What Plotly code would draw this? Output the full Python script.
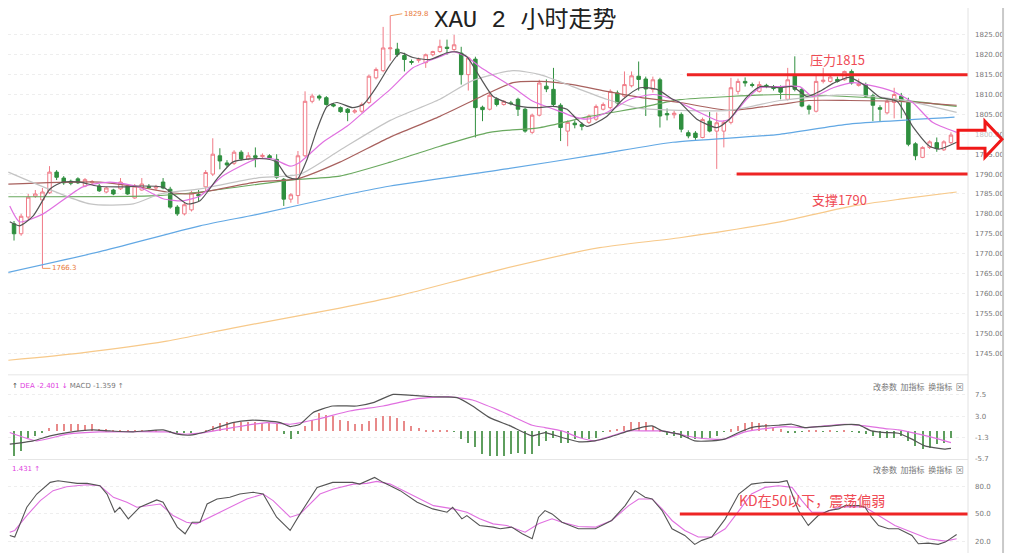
import plotly.graph_objects as go

# ---------------- candle data (2h bars) ----------------
open_ = [1777.5,1775.0,1779.2,1784.4,1783.5,1785.3,1790.5,1789.0,1788.2,1788.8,
         1787.0,1787.8,1787.0,1785.5,1786.0,1786.3,1787.0,1784.0,1786.0,1786.9,
         1786.5,1788.0,1786.2,1781.7,1780.0,1781.0,1784.9,1786.8,1790.0,1794.6,
         1792.8,1792.7,1795.5,1793.8,1794.6,1794.4,1794.6,1793.7,1788.7,1783.7,
         1784.6,1794.6,1808.3,1809.6,1809.2,1807.5,1806.7,1806.3,1805.6,1805.8,
         1808.0,1814.2,1816.0,1821.5,1821.4,1819.8,1818.3,1818.6,1818.0,1820.0,
         1820.8,1821.9,1821.3,1820.4,1815.0,1818.9,1806.8,1806.3,1808.9,1807.5,
         1807.9,1808.8,1806.3,1800.5,1804.8,1812.1,1811.3,1807.3,1800.8,1802.8,
         1802.5,1803.0,1803.8,1806.3,1806.7,1810.4,1809.6,1812.2,1814.6,1813.9,
         1811.3,1813.7,1805.2,1804.9,1805.0,1800.4,1800.3,1799.2,1803.3,1800.8,
         1800.8,1803.0,1810.8,1813.3,1812.5,1810.8,1812.3,1812.0,1811.9,1808.8,
         1815.0,1811.3,1807.1,1805.8,1813.3,1813.3,1813.8,1813.7,1815.8,1812.3,
         1812.5,1809.7,1806.7,1805.4,1808.0,1809.6,1808.0,1797.6,1794.2,1796.7,
         1797.9,1796.1,1797.9]
high = [1778.2,1780.0,1785.0,1786.0,1786.5,1792.0,1791.0,1789.5,1788.6,1789.2,
        1789.0,1788.5,1787.5,1786.8,1786.3,1789.0,1787.5,1787.5,1789.0,1787.5,
        1787.3,1789.0,1786.8,1782.2,1782.8,1785.8,1786.0,1791.0,1799.0,1796.5,
        1793.5,1796.0,1796.0,1795.5,1796.7,1795.2,1795.0,1795.0,1789.0,1785.2,
        1795.8,1810.8,1810.2,1810.0,1809.6,1807.9,1807.0,1806.6,1806.4,1808.0,
        1815.0,1816.8,1827.0,1829.8,1823.0,1820.5,1818.8,1819.3,1820.3,1821.0,
        1823.8,1823.8,1825.0,1822.0,1819.5,1819.5,1807.2,1810.5,1809.3,1808.6,
        1808.4,1809.2,1806.7,1805.2,1813.7,1813.8,1816.7,1807.8,1803.5,1803.5,
        1803.0,1805.0,1807.5,1808.0,1811.3,1811.0,1815.8,1815.8,1818.3,1814.5,
        1814.5,1814.2,1806.5,1806.0,1805.5,1801.0,1800.8,1804.2,1805.6,1805.5,
        1803.5,1814.2,1814.0,1814.3,1813.0,1813.3,1812.7,1812.4,1812.3,1816.7,
        1819.6,1811.7,1807.5,1815.0,1816.7,1815.0,1814.5,1816.0,1816.3,1814.0,
        1813.0,1810.2,1807.3,1808.8,1811.7,1810.4,1809.2,1798.0,1797.0,1798.5,
        1799.2,1798.5,1800.5]
low = [1773.3,1774.5,1778.5,1784.0,1766.3,1785.0,1788.5,1787.3,1787.2,1787.5,
       1786.7,1787.3,1785.5,1785.2,1784.7,1786.0,1784.8,1783.8,1785.8,1786.3,
       1786.0,1786.2,1781.3,1779.5,1779.6,1780.6,1783.0,1785.5,1789.5,1791.2,
       1791.8,1792.3,1793.4,1793.5,1791.7,1793.8,1793.6,1788.8,1782.0,1782.8,
       1782.5,1794.3,1807.8,1808.5,1807.2,1806.8,1805.4,1803.3,1805.2,1805.4,
       1807.6,1813.8,1815.6,1818.5,1819.5,1815.8,1817.5,1818.0,1816.7,1819.6,
       1820.5,1820.0,1821.0,1812.5,1811.0,1799.2,1803.3,1806.0,1807.0,1807.2,
       1807.3,1804.6,1800.4,1800.1,1804.5,1810.6,1807.1,1798.3,1797.0,1801.5,
       1801.0,1802.6,1803.4,1806.0,1806.3,1807.5,1809.2,1811.8,1811.0,1804.6,
       1810.5,1801.7,1803.5,1804.0,1800.5,1799.0,1798.6,1799.0,1800.5,1791.3,
       1796.7,1802.5,1810.0,1812.0,1811.8,1810.5,1811.6,1811.0,1808.8,1808.5,
       1810.8,1806.8,1805.0,1805.5,1812.8,1813.0,1813.0,1813.5,1812.5,1812.0,
       1809.2,1803.3,1803.3,1805.0,1804.0,1804.0,1797.0,1793.5,1794.0,1796.3,
       1795.6,1795.8,1797.6]
close = [1775.0,1779.4,1784.2,1785.0,1785.5,1790.5,1789.2,1787.8,1787.7,1787.8,
         1788.6,1788.1,1785.8,1786.5,1785.0,1788.0,1785.0,1787.0,1787.5,1786.6,
         1786.8,1786.5,1781.7,1780.0,1782.3,1785.3,1784.5,1790.4,1795.0,1793.3,
         1792.3,1795.5,1793.8,1794.6,1794.2,1794.7,1794.0,1789.2,1783.7,1784.8,
         1794.6,1808.3,1809.6,1809.1,1807.5,1807.1,1805.7,1805.5,1805.9,1807.5,
         1814.6,1816.3,1821.7,1821.7,1820.0,1818.8,1818.1,1818.8,1820.0,1820.8,
         1822.1,1821.6,1822.5,1815.0,1819.2,1806.7,1806.2,1809.8,1807.5,1808.3,
         1807.7,1806.3,1800.8,1804.8,1812.9,1811.4,1807.5,1801.7,1803.0,1802.4,
         1802.0,1804.6,1807.0,1807.5,1810.8,1807.9,1812.5,1814.7,1813.8,1811.4,
         1813.7,1804.6,1804.9,1805.3,1801.3,1799.6,1799.2,1803.7,1800.8,1802.9,
         1803.0,1811.7,1813.3,1812.9,1812.3,1812.5,1812.0,1811.5,1810.6,1813.7,
         1811.3,1807.1,1806.3,1813.3,1813.6,1814.4,1813.3,1815.8,1812.9,1812.7,
         1809.6,1807.3,1806.3,1808.3,1810.0,1808.3,1797.5,1794.6,1796.7,1798.1,
         1796.4,1798.1,1799.8]
bar_index = list(range(len(close)))

# ---------------- moving averages (read at sample bars) ----------------
ma5_x = [-0.6,0.8,2.7,5.1,6.9,9.3,11.7,15.9,17.7,21.0,22.4,24.4,26.2,28.6,30.8,33.2,35.6,37.0,38.5,39.9,
         41.3,42.7,44.1,45.5,47.7,49.2,51.1,53.0,54.4,56.2,58.6,61.0,62.4,63.8,65.6,67.5,69.4,71.3,73.7,75.9,
         77.9,79.3,80.7,83.5,85.8,88.2,90.6,92.8,93.8,96.2,99.0,100.8,103.2,105.1,107.9,109.7,111.7,113.5,115.4,117.7,
         120.1,122.0,124.4,126.6,129.0,130.4,132.8]
ma5_y = [1778,1777,1779.5,1786.3,1788,1788,1787,1786.8,1787,1786.7,1785,1782.5,1783.3,1788.8,1793,1793.8,1793.8,1793,1789.3,1788.8,
         1793.8,1801.3,1807,1808,1806.7,1807.5,1812,1817.5,1820.5,1819.3,1818.8,1820.5,1820.7,1819.5,1814.5,1809.5,1808,1807,1806.7,1807,
         1806.3,1803.8,1802,1804.5,1808.8,1811.7,1811.3,1808.8,1808,1803.8,1801.7,1803.8,1809.3,1812,1811.7,1812,1809.5,1810.8,1812.8,1814.3,
         1812,1809.3,1808.3,1802,1797,1796.3,1798]
ma10_x = [-0.6,0.8,4.1,9.7,13.5,17.7,21.0,23.8,26.2,29.4,34.2,36.5,38.9,40.3,43.5,46.9,49.7,53.0,56.2,60.0,
          61.8,63.8,65.6,70.3,73.1,77.3,78.7,80.7,83.5,86.8,90.0,92.8,96.6,99.4,100.8,103.2,105.1,107.9,110.7,112.5,
          115.4,118.2,120.1,123.8,126.6,129.4,132.8]
ma10_y = [1782,1778,1780,1786.8,1788,1786.7,1783.8,1783.3,1784.5,1789.5,1793.8,1793.8,1792,1793,1798,1802,1806.3,1811.3,1816.7,1819.5,
          1820.8,1819.5,1817,1811.8,1808.3,1805.5,1804.5,1803.8,1805.5,1808.8,1810,1808.8,1805.5,1803.3,1803.8,1808.8,1811.7,1812,1812,1809.5,
          1811.7,1813,1812.5,1810.8,1808,1803,1800.5]
ma20_x = [-0.8,10.7,16.8,20.6,26.2,34.2,40.3,45.9,53.0,60.0,64.6,70.3,74.1,78.7,83.5,88.2,93.8,100.8,107.9,117.7,124.8,132.8]
ma20_y = [1790.5,1782.5,1782.5,1785,1786.3,1789,1790,1796,1803.5,1808.8,1813.5,1816,1815,1812,1808.8,1806.5,1806,1806,1808.5,1810,1808.7,1805.5]
ma30_x = [-0.8,12.1,17.7,21.5,24.8,34.2,39.9,45.9,53.0,60.0,67.0,70.3,74.1,78.7,83.5,88.2,93.8,100.8,107.9,112.0,117.7,124.8,132.8]
ma30_y = [1787.5,1788,1786.7,1785.5,1785,1788,1788.8,1793,1799.3,1804.5,1810.5,1813,1813.3,1812.5,1810.8,1809.3,1808,1806,1807.5,1808.5,1808.5,1808.3,1807.3]
ma60_x = [-0.8,19.2,26.2,38.9,45.9,53.0,60.0,67.0,74.1,81.1,88.2,93.8,100.8,107.9,117.3,124.4,132.8]
ma60_y = [1784.3,1784.5,1785.5,1788.5,1789.5,1793,1797,1800.5,1801.7,1804.5,1806.7,1808.7,1809.5,1810,1809.5,1808.7,1807]
ma120_x = [-0.8,12.1,26.2,34.6,45.9,53.0,69.4,82.5,92.8,107.9,117.3,132.5]
ma120_y = [1765.3,1770.5,1777,1780,1784.5,1787,1791.3,1795,1798,1800,1802.5,1804.3]
ma240_x = [-0.8,9.3,21.5,30.8,45.9,54.4,68.5,82.5,93.8,107.9,118.2,124.8,132.8]
ma240_y = [1743.2,1745,1748,1751.3,1756.3,1759.5,1766,1771.5,1774,1778,1782,1783.7,1785.5]

price_ticks = [1825,1820,1815,1810,1805,1800,1795,1790,1785,1780,1775,1770,1765,1760,1755,1750,1745]
high_mark = (53, 1829.8)
low_mark = (4, 1766.3)
resistance = 1815
support = 1790

# ---------------- MACD ----------------
macd_hist = [-5.1,-4.1,-1.35,-1.0,-0.3,0.7,1.4,1.4,1.4,1.4,
             1.2,1.4,0.5,0.4,0.2,0.2,0.1,0.1,0.05,0.1,
             0.05,0.0,-0.3,-0.6,-0.5,-0.3,0.0,0.3,1.0,1.6,
             1.8,1.85,1.85,1.8,1.8,1.75,1.6,1.4,-0.7,-1.7,
             -0.6,1.0,2.4,3.8,3.4,3.1,2.4,2.1,1.4,1.4,
             2.1,2.8,3.1,3.1,2.8,2.1,1.1,0.7,0.24,0.03,
             0.05,0.05,-0.1,-1.7,-2.4,-3.4,-4.8,-5.1,-5.1,-5.1,
             -4.8,-4.5,-4.8,-4.8,-3.1,-2.0,-1.35,-2.4,-2.4,-1.7,
             -1.35,-1.7,-1.35,-0.1,0.24,0.5,1.07,1.9,1.9,1.9,
             1.07,0.1,-0.86,-1.1,-1.34,-1.34,-1.68,-1.68,-1.34,-1.0,
             -0.1,0.4,1.07,1.75,1.9,1.75,1.4,0.7,0.4,-0.3,
             -0.2,-0.1,0.1,0.15,-0.1,0.1,-0.1,0.1,-0.1,-0.2,
             -0.6,-1.0,-1.34,-1.34,-1.34,-1.0,-2.0,-3.06,-3.75,-3.6,
             -2.7,-2.37,-1.36]
dif_x = [-0.6,2.7,5.1,7.5,11.1,13.5,16.8,21.0,23.0,24.8,26.6,28.6,30.8,33.2,35.6,37.5,38.9,40.3,42.1,44.9,
         48.3,50.6,53.4,56.2,59.0,62.4,64.6,67.0,69.9,73.0,74.8,77.2,79.6,81.8,84.2,86.6,88.9,89.9,91.3,93.7,
         95.9,98.3,100.1,102.1,103.9,105.8,107.7,109.6,111.4,113.4,115.2,117.0,119.0,120.8,122.7,124.6,126.5,128.3,130.3,131.1,132.0]
dif_y = [-2.71,-2.03,-1.0,-0.31,0.24,0.03,-0.17,0.24,-0.65,-0.86,-0.31,0.72,1.75,2.23,2.1,1.75,0.93,1.41,3.81,5.19,
         5.19,5.88,7.59,7.39,7.11,6.91,5.19,2.78,1.07,-1.0,-0.31,-1.34,-2.23,-2.03,-1.13,0.03,0.93,1.07,0.03,-0.65,
         -2.03,-2.03,-1.68,-0.31,0.72,1.07,1.2,1.41,0.72,0.93,1.07,1.34,1.27,0.03,-0.31,-0.45,-1.68,-3.06,-3.61,-3.75,-3.6]
dea_x = [-0.6,3.2,7.5,12.1,21.5,23.8,26.2,30.8,35.6,38.9,42.7,47.3,52.0,56.8,61.4,64.6,68.5,70.1,73.0,74.8,
         77.2,79.6,81.8,84.2,86.6,88.9,91.3,93.7,95.9,98.3,100.1,103.0,105.8,108.6,111.4,114.2,117.0,119.9,122.7,124.6,
         127.5,130.3,132.0]
dea_y = [-0.31,-2.03,-0.65,-0.17,-0.17,-0.65,-0.45,0.72,1.75,1.41,2.44,4.16,5.19,6.7,7.11,6.43,4.16,3.13,1.2,0.72,
         0.03,-1.34,-2.03,-1.0,0.03,0.03,0.03,-0.65,-1.34,-1.68,-1.68,-0.17,0.52,0.93,0.72,1.07,1.41,1.07,0.52,0.24,
         -0.65,-1.68,-2.4]
macd_ticks = [7.5, 3.0, -1.3, -5.7]

# ---------------- KD ----------------
k_x = [-0.6,0.1,1.8,3.2,5.1,6.2,8.9,10.3,12.1,13.1,14.2,14.9,16.1,17.7,20.1,21.0,23.0,24.1,25.1,26.2,
       27.2,28.6,30.4,31.8,33.7,35.1,37.0,38.9,40.3,42.7,44.9,47.7,48.7,49.7,50.8,52.0,54.4,56.8,59.0,61.0,
       61.8,63.1,63.8,65.6,67.5,68.5,70.1,71.6,73.0,73.9,74.8,75.8,77.2,79.5,81.9,84.2,86.1,87.5,88.9,89.9,
       91.3,92.7,94.5,95.9,96.9,98.3,100.2,102.1,103.9,105.8,107.7,108.9,109.6,110.5,111.9,113.3,114.8,116.2,117.1,119.0,
       119.9,120.8,121.8,123.2,124.6,126.5,127.4,128.8,130.2,131.2,132.8]
k_y = [26.4,24.6,57.3,71.8,84.6,86.4,83.5,83.5,80.9,71.8,51.9,57.3,44.6,57.3,65.3,62.8,35.5,28.2,40.9,40.9,
       60.9,66.4,68.2,71.8,73.7,71.8,46.4,31.9,50.0,79.1,84.6,84.6,82.7,86.4,90.0,84.6,75.5,62.8,55.5,51.9,
       57.3,44.6,48.2,37.3,35.5,33.7,35.5,28.2,22.8,46.4,53.7,50.0,40.9,33.7,33.7,42.8,59.1,75.5,68.2,66.4,
       53.7,33.7,26.4,16.6,21.0,24.6,44.6,71.8,82.7,84.6,84.6,86.4,71.8,53.7,37.3,48.2,53.7,55.5,59.1,59.1,
       57.3,46.4,37.3,33.7,33.7,26.4,17.3,18.0,16.6,19.1,27.5]
d_x = [-0.6,0.1,1.8,3.7,5.5,7.4,10.2,12.1,14.0,15.9,17.3,18.7,20.6,22.4,24.3,25.7,27.1,29.9,32.8,35.1,
       36.5,38.9,40.3,43.1,45.0,47.8,49.7,51.1,53.0,55.8,59.1,61.9,63.8,65.6,67.5,69.4,70.1,72.0,73.9,75.8,
       77.2,79.5,81.9,84.2,86.6,88.0,89.9,91.3,92.7,94.5,96.4,98.3,100.2,102.1,103.9,105.8,107.7,109.6,111.0,112.4,
       114.3,116.2,118.0,119.9,121.8,124.1,126.5,128.8,131.2,132.8]
d_y = [30.0,31.9,48.2,64.6,75.5,79.8,82.0,80.9,68.2,62.8,57.3,59.1,60.9,48.2,40.9,39.1,44.6,55.5,66.4,71.8,
       64.6,46.4,50.0,71.8,77.3,82.7,83.5,85.7,82.7,71.8,59.1,55.5,51.9,44.6,39.1,37.3,35.5,30.0,39.1,44.6,
       40.9,36.2,35.5,42.8,59.1,66.4,66.4,55.5,42.8,31.9,24.6,24.6,33.7,53.7,71.8,79.1,80.9,79.1,64.6,51.9,
       51.9,57.3,58.0,57.3,48.2,37.3,30.0,22.8,20.2,22.8]
kd_ticks = [80, 50, 20]
kd_level = 50

# ---------------- figure ----------------
# The page body has an 8px default margin, so the figure is sized to fill the rest of the window.
OFF = 8
W, H = 1024 - OFF, 556 - OFF

def dom(top_px, bot_px):
    """Domain from window pixel rows (top, bottom)."""
    return [1 - (bot_px - OFF) / H, 1 - (top_px - OFF) / H]

RED_LINE = "#ee2424"
RED_TEXT = "#ef4b55"

fig = go.Figure()

fig.add_trace(go.Candlestick(
    x=bar_index, open=open_, high=high, low=low, close=close,
    increasing=dict(line=dict(color="#f07a86", width=1), fillcolor="#ffffff"),
    decreasing=dict(line=dict(color="#2f8f3f", width=1), fillcolor="#2f8f3f"),
    whiskerwidth=0, showlegend=False, hoverinfo="skip", xaxis="x", yaxis="y"))

ma_specs = [
    (ma240_x, ma240_y, "#f7c98a"),
    (ma120_x, ma120_y, "#62a8e4"),
    (ma60_x, ma60_y, "#6aa95f"),
    (ma30_x, ma30_y, "#a8615e"),
    (ma20_x, ma20_y, "#c4c4c4"),
    (ma10_x, ma10_y, "#e070e0"),
    (ma5_x, ma5_y, "#555555"),
]
for xs, ys, col in ma_specs:
    fig.add_trace(go.Scatter(x=xs, y=ys, mode="lines", line=dict(color=col, width=1.2, shape="spline", smoothing=0.6),
                             showlegend=False, hoverinfo="skip", xaxis="x", yaxis="y"))

fig.add_trace(go.Bar(x=bar_index, y=macd_hist, width=0.16,
                     marker=dict(color=["#e88a8a" if v >= 0 else "#5e9e5e" for v in macd_hist], line=dict(width=0)),
                     showlegend=False, hoverinfo="skip", xaxis="x", yaxis="y2"))
fig.add_trace(go.Scatter(x=dea_x, y=dea_y, mode="lines", line=dict(color="#e070e0", width=1.2, shape="spline", smoothing=0.5),
                         showlegend=False, hoverinfo="skip", xaxis="x", yaxis="y2"))
fig.add_trace(go.Scatter(x=dif_x, y=dif_y, mode="lines", line=dict(color="#555555", width=1.2, shape="spline", smoothing=0.5),
                         showlegend=False, hoverinfo="skip", xaxis="x", yaxis="y2"))

fig.add_trace(go.Scatter(x=d_x, y=d_y, mode="lines", line=dict(color="#e070e0", width=1.1),
                         showlegend=False, hoverinfo="skip", xaxis="x", yaxis="y3"))
fig.add_trace(go.Scatter(x=k_x, y=k_y, mode="lines", line=dict(color="#555555", width=1.1),
                         showlegend=False, hoverinfo="skip", xaxis="x", yaxis="y3"))

axis_common = dict(side="right", showline=False, ticks="",
                   ticklabelstandoff=6, tickfont=dict(family="DejaVu Sans", size=7, color="#777777"),
                   showgrid=True, gridcolor="#eeeeee", griddash="dot", zeroline=False, anchor="x")

fig.update_layout(
    width=W, height=H, margin=dict(l=0, r=56, t=0, b=0),
    paper_bgcolor="white", plot_bgcolor="white", showlegend=False, bargap=0,
    xaxis=dict(range=[-0.85, 134.4], showticklabels=False, showgrid=False, zeroline=False,
               showline=False, ticks="", rangeslider=dict(visible=False), anchor="y3"),
    yaxis=dict(domain=dom(8, 375), range=[1740, 1831.75], tickvals=price_ticks,
               ticktext=[f"{v:.2f}" for v in price_ticks], **axis_common),
    yaxis2=dict(domain=dom(380, 462), range=[-5.9, 11.0], tickvals=macd_ticks,
                ticktext=[f"{v:.1f}" for v in macd_ticks], **axis_common),
    yaxis3=dict(domain=dom(466, 552), range=[11.5, 105.3], tickvals=kd_ticks,
                ticktext=[f"{v:.1f}" for v in kd_ticks], **axis_common),
)

shapes = [
    dict(type="line", xref="x", yref="y", x0=94.8, x1=135, y0=resistance, y1=resistance,
         line=dict(color=RED_LINE, width=3)),
    dict(type="line", xref="x", yref="y", x0=101.8, x1=135, y0=support, y1=support,
         line=dict(color=RED_LINE, width=3)),
    dict(type="line", xref="x", yref="y3", x0=93.8, x1=135, y0=kd_level, y1=kd_level,
         line=dict(color=RED_LINE, width=3)),
    # panel separators
    dict(type="line", xref="paper", yref="y domain", x0=0, x1=1.0, y0=-0.005, y1=-0.005,
         line=dict(color="#e6e6e6", width=1)),
    dict(type="line", xref="paper", yref="y2 domain", x0=0, x1=1.0, y0=0, y1=0,
         line=dict(color="#e6e6e6", width=1)),
    # plot-area right edge and outer right border
    dict(type="line", xref="paper", yref="paper", x0=1.0, x1=1.0, y0=0, y1=1,
         line=dict(color="#e2e2e2", width=1)),
    dict(type="line", xref="paper", yref="paper", x0=1.0365, x1=1.0365, y0=0, y1=1,
         line=dict(color="#c9c9c9", width=2)),
    # hollow right arrow next to price
    dict(type="path", xref="paper", yref="y",
         path="M 0.9896,1801.0 L 1.0177,1801.0 L 1.0177,1803.25 L 1.0354,1798.75 L 1.0177,1794.25 "
              "L 1.0177,1796.5 L 0.9896,1796.5 Z",
         line=dict(color="#f01818", width=3), fillcolor="rgba(255,255,255,0.55)", layer="above"),
]
fig.update_layout(shapes=shapes)

ann = [
    dict(text="XAU 2 小时走势", xref="paper", yref="paper", x=0.5385, y=1 - (20 - OFF) / H,
         xanchor="center", yanchor="middle",
         showarrow=False, font=dict(family="Liberation Mono, Noto Sans CJK SC", size=24, color="#222222")),
    dict(text=f"{high_mark[1]:.1f}", x=high_mark[0], y=high_mark[1], xref="x", yref="y",
         showarrow=True, ax=12, ay=-2, arrowhead=0, arrowwidth=1, arrowcolor="#ef9a5a",
         xanchor="left", font=dict(size=7, color="#e8793a", family="DejaVu Sans")),
    dict(text=f"{low_mark[1]:.1f}", x=low_mark[0], y=low_mark[1], xref="x", yref="y",
         showarrow=True, ax=8, ay=0, arrowhead=0, arrowwidth=1, arrowcolor="#ef9a5a",
         xanchor="left", font=dict(size=7, color="#e8793a", family="DejaVu Sans")),
    dict(text=f"压力{resistance}", x=116, y=1818.8, xref="x", yref="y", showarrow=False,
         font=dict(family="Noto Sans CJK SC", size=13, color=RED_TEXT)),
    dict(text=f"支撑{support}", x=116.3, y=1783.7, xref="x", yref="y", showarrow=False,
         font=dict(family="Noto Sans CJK SC", size=13, color=RED_TEXT)),
    dict(text=f"KD在{kd_level}以下，震荡偏弱", x=112.4, y=65, xref="x", yref="y3", showarrow=False,
         font=dict(family="Noto Sans CJK SC", size=14, color=RED_TEXT)),
    dict(text='<span style="color:#444">↑</span> <span style="color:#e040e0">DEA -2.401 ↓</span> '
              '<span style="color:#777">MACD -1.359 ↑</span>',
         xref="x domain", yref="y2 domain", x=0.002, y=0.9, xanchor="left", yanchor="middle",
         showarrow=False, font=dict(family="DejaVu Sans", size=7)),
    dict(text='<span style="color:#e040e0">1.431 ↑</span>',
         xref="x domain", yref="y3 domain", x=0.002, y=0.94, xanchor="left", yanchor="middle",
         showarrow=False, font=dict(family="DejaVu Sans", size=7)),
]
for ref in ("y2 domain", "y3 domain"):
    ann.append(dict(text="改参数  加指标  换指标  ⊠", xref="x domain", yref=ref, x=0.998,
                    y=0.9 if ref == "y2 domain" else 0.93, xanchor="right", yanchor="middle",
                    showarrow=False, font=dict(family="Noto Sans CJK SC", size=8, color="#777777")))
fig.update_layout(annotations=ann)

fig.write_html("out.html")
